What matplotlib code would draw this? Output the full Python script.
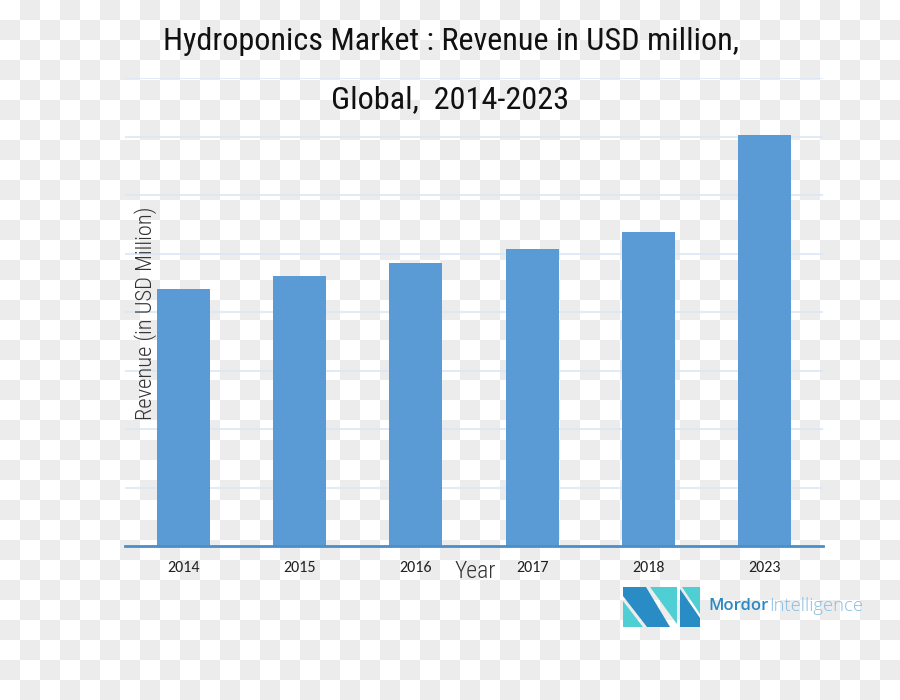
import numpy as np
import matplotlib
matplotlib.use("Agg")
import matplotlib.pyplot as plt
from matplotlib.patches import Polygon

# data (one grid step = 1000)
years = ["2014", "2015", "2016", "2017", "2018", "2023"]
revenue = [4390, 4620, 4840, 5080, 5370, 7030]

title_font = ["Roboto Condensed", "Liberation Sans Narrow", "Roboto", "DejaVu Sans"]
tick_font = ["Carlito", "Open Sans", "DejaVu Sans"]

W, H = 900, 700
fig = plt.figure(figsize=(9, 7), dpi=100)

# transparent-look checker background
bg = fig.add_axes([0, 0, 1, 1], zorder=-10)
yy, xx = np.mgrid[0:H, 0:W]
checker = ((xx // 20 + yy // 20) % 2).astype(float)
bg.imshow(checker, cmap=matplotlib.colors.ListedColormap(["#ffffff", "#ececec"]),
          extent=[0, W, H, 0], interpolation="nearest", aspect="auto")
bg.set_xlim(0, W)
bg.set_ylim(H, 0)
bg.axis("off")

ax = fig.add_axes([125 / W, 154 / H, 698 / W, 468 / H])
ax.patch.set_alpha(0)
x = np.arange(len(years))
ax.bar(x, revenue, width=0.455, color="#5b9bd5", zorder=3)
ax.set_xlim(-0.5, 5.5)
ax.set_ylim(0, 8000)
ax.set_yticks(np.arange(1000, 8001, 1000))
ax.yaxis.grid(True, color="#dbe8f4", linewidth=1.2, zorder=0)
ax.tick_params(axis="y", left=False, labelleft=False)
ax.tick_params(axis="x", bottom=False, pad=7)
ax.set_xticks(x)
ax.set_xticklabels(years, fontsize=11.5, color="#222222", family=tick_font)
for s in ["top", "right", "left"]:
    ax.spines[s].set_visible(False)
ax.spines["bottom"].set_color("#4a8fc8")
ax.spines["bottom"].set_linewidth(2)
ax.spines["bottom"].set_zorder(4)

fig.text(451 / W, 1 - 42 / H, "Hydroponics Market : Revenue in USD million,",
         ha="center", va="center", fontsize=23.2, color="#111111", family=title_font)
fig.text(450 / W, 1 - 100 / H, "Global,  2014-2023",
         ha="center", va="center", fontsize=23.2, color="#111111", family=title_font)
fig.text(146 / W, 1 - 313 / H, "Revenue (in USD Million)", rotation=90,
         ha="center", va="center", fontsize=16.2, color="#333333", family=title_font,
         fontweight="light")
fig.text(475 / W, 1 - 572 / H, "Year", ha="center", va="center",
         fontsize=17, color="#333333", family=title_font, fontweight="light")

# Mordor Intelligence logo
lg = fig.add_axes([0, 0, 1, 1], zorder=5)
lg.set_xlim(0, W)
lg.set_ylim(H, 0)
lg.axis("off")
dark, cyan = "#2a8cc4", "#4fcfd3"
shapes = [
    ([(623, 587), (646, 587), (670, 627), (647, 627), (623, 596)], dark),
    ([(623, 601), (623, 627), (643, 627)], cyan),
    ([(650, 587), (677, 587), (677, 624)], cyan),
    ([(680, 589), (680, 627), (700, 627), (700, 618)], dark),
    ([(682, 587), (700, 587), (700, 614)], cyan),
]
for pts, c in shapes:
    lg.add_patch(Polygon(pts, closed=True, color=c, lw=0))
lg.text(708, 606, "Mordor", ha="left", va="center", fontsize=12,
        color="#2b88c2", family=["Open Sans", "DejaVu Sans"], fontweight="semibold")
lg.text(769, 606, "Intelligence", ha="left", va="center", fontsize=13.2,
        color="#86bde2", family=["Open Sans", "DejaVu Sans"], fontweight="light")

fig.savefig("out.png", dpi=100)
